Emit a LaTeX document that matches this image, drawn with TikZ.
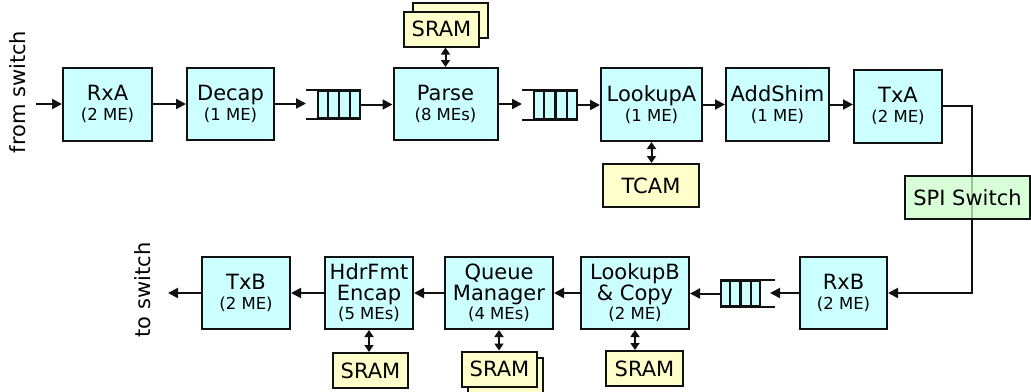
\documentclass[tikz,border=0pt]{standalone}
\usepackage{fontspec}
\setmainfont{DejaVu Sans}
\usetikzlibrary{arrows.meta,calc}
\definecolor{cyanfill}{HTML}{CCFFFF}
\definecolor{yelfill}{HTML}{FFFFCC}
\definecolor{grnfill}{HTML}{CCFFCC}
\definecolor{edge}{HTML}{111111}
\newcommand{\sub}[1]{{\fontsize{16.5}{16}\selectfont #1}}
\tikzset{
  box/.style={draw=edge, line width=2pt, fill=cyanfill, inner sep=0pt, align=center,
    font=\fontsize{21}{20}\selectfont},
  mem/.style={draw=edge, line width=2pt, fill=yelfill, inner sep=0pt,
    minimum width=75pt, minimum height=35pt, font=\fontsize{21}{21}\selectfont},
  qbox/.style={draw=edge, line width=2pt, fill=cyanfill, inner sep=0pt},
  qline/.style={draw=edge, line width=2.2pt},
  arr/.style={draw=edge, line width=2pt, -{Triangle[length=10pt,width=10pt]}},
  darr/.style={draw=edge, line width=2pt, {Triangle[length=7pt,width=9pt]}-{Triangle[length=7pt,width=9pt]}},
  lbl/.style={font=\fontsize{21}{21}\selectfont, rotate=90, inner sep=0pt},
}
\begin{document}
\begin{tikzpicture}[x=1pt,y=-1pt]
\useasboundingbox (0,0) rectangle (1031,391);
% top row
\node[box, minimum width=89pt, minimum height=73pt] (rxa) at (107.5,104) {RxA\\[0pt]\sub{(2 ME)}};
\node[box, minimum width=87pt, minimum height=72pt] (decap) at (230.5,103.5) {Decap\\[0pt]\sub{(1 ME)}};
\node[box, minimum width=104pt, minimum height=72pt] (parse) at (445.5,104) {Parse\\[0pt]\sub{(8 MEs)}};
\node[box, minimum width=101pt, minimum height=73pt] (lookupa) at (651.5,104.5) {LookupA\\[0pt]\sub{(1 ME)}};
\node[box, minimum width=103pt, minimum height=73pt] (addshim) at (777.5,104.5) {AddShim\\[0pt]\sub{(1 ME)}};
\node[box, minimum width=88pt, minimum height=73pt] (txa) at (898,106) {TxA\\[0pt]\sub{(2 ME)}};
% memories top
\node[mem] (sramtb) at (450.5,20.5) {};
\node[mem] (sramt) at (441.5,29) {SRAM};
\node[mem, minimum width=96pt, minimum height=43pt] (tcam) at (651,185.5) {TCAM};
% queues top
\node[qbox, minimum width=42pt, minimum height=27pt] (q1) at (339,104.5) {};
\foreach \f in {0.25,0.5,0.75}{\draw[qline] ($(q1.north west)!\f!(q1.north east)$) -- ($(q1.south west)!\f!(q1.south east)$);}
\coordinate (q1in) at (306,104.5);
\draw[qline] (q1.north east) -- (q1in |- q1.north);
\draw[qline] (q1.south east) -- (q1in |- q1.south);
\node[qbox, minimum width=43pt, minimum height=28pt] (q2) at (555.5,105) {};
\foreach \f in {0.25,0.5,0.75}{\draw[qline] ($(q2.north west)!\f!(q2.north east)$) -- ($(q2.south west)!\f!(q2.south east)$);}
\coordinate (q2in) at (522,105);
\draw[qline] (q2.north east) -- (q2in |- q2.north);
\draw[qline] (q2.south east) -- (q2in |- q2.south);
% bottom row
\node[box, minimum width=87pt, minimum height=72pt] (rxb) at (843.5,293) {RxB\\[0pt]\sub{(2 ME)}};
\node[box, minimum width=108pt, minimum height=72pt] (lookupb) at (635,293) {LookupB\\[1pt]\&~Copy\\[-1pt]\sub{(2 ME)}};
\node[box, minimum width=108pt, minimum height=72pt] (qm) at (499,293) {Queue\\[1pt]Manager\\[-1pt]\sub{(4 MEs)}};
\node[box, minimum width=88pt, minimum height=72pt] (hdr) at (369,293) {HdrFmt\\[1pt]Encap\\[-1pt]\sub{(5 MEs)}};
\node[box, minimum width=88pt, minimum height=72pt] (txb) at (246,293) {TxB\\[0pt]\sub{(2 ME)}};
% memories bottom
\node[mem, minimum width=77pt] (sramlb) at (644.5,368.5) {SRAM};
\node[mem] (sramqmb) at (505.5,375) {};
\node[mem] (sramqm) at (499.5,369) {SRAM};
\node[mem] (sramhf) at (370.5,370.5) {SRAM};
% queue bottom
\node[qbox, minimum width=39pt, minimum height=25pt] (q3) at (740.5,293.5) {};
\foreach \f in {0.25,0.5,0.75}{\draw[qline] ($(q3.north west)!\f!(q3.north east)$) -- ($(q3.south west)!\f!(q3.south east)$);}
\coordinate (q3in) at (775,293.5);
\draw[qline] (q3.north west) -- (q3in |- q3.north);
\draw[qline] (q3.south west) -- (q3in |- q3.south);
% labels
\node[lbl] (fromsw) at (18,92) {from switch};
\node[lbl] (tosw) at (143,290) {to switch};
% top connectors
\coordinate (inA) at (36,104);
\draw[arr] (inA) -- (rxa.west |- inA);
\draw[arr] (rxa.east) -- (decap.west |- rxa.east);
\draw[arr] (decap.east) -- (q1in |- decap.east);
\draw[arr] (q1.east) -- (parse.west |- q1.east);
\draw[arr] (parse.east) -- (q2in |- parse.east);
\draw[arr] (q2.east) -- (lookupa.west |- q2.east);
\draw[arr] (lookupa.east) -- (addshim.west |- lookupa.east);
\draw[arr] (addshim.east) -- (txa.west |- addshim.east);
\draw[darr] (sramt.south -| parse.north) -- (parse.north);
\draw[darr] (lookupa.south) -- (tcam.north -| lookupa.south);
% loop through switch
\coordinate (turn) at (972,0);
\draw[arr] (txa.east) -- (txa.east -| turn) -- (turn |- rxb.east) -- (rxb.east);
\node[draw=edge, line width=2pt, fill=grnfill, fill opacity=0.75, text opacity=1, inner sep=0pt,
  minimum width=125pt, minimum height=43pt, font=\fontsize{21}{21}\selectfont] (spi) at (967.5,197.5) {SPI Switch};
% bottom connectors
\coordinate (q3tip) at (770,293);
\draw[arr] (rxb.west) -- (q3tip);
\draw[arr] (q3.west) -- (lookupb.east |- q3.west);
\draw[arr] (lookupb.west) -- (qm.east |- lookupb.west);
\draw[arr] (qm.west) -- (hdr.east |- qm.west);
\draw[arr] (hdr.west) -- (txb.east |- hdr.west);
\coordinate (outB) at (168,293);
\draw[arr] (txb.west) -- (outB);
\draw[darr] (hdr.south) -- (sramhf.north -| hdr.south);
\draw[darr] (qm.south) -- (sramqm.north -| qm.south);
\draw[darr] (lookupb.south) -- (sramlb.north -| lookupb.south);
\end{tikzpicture}
\end{document}
